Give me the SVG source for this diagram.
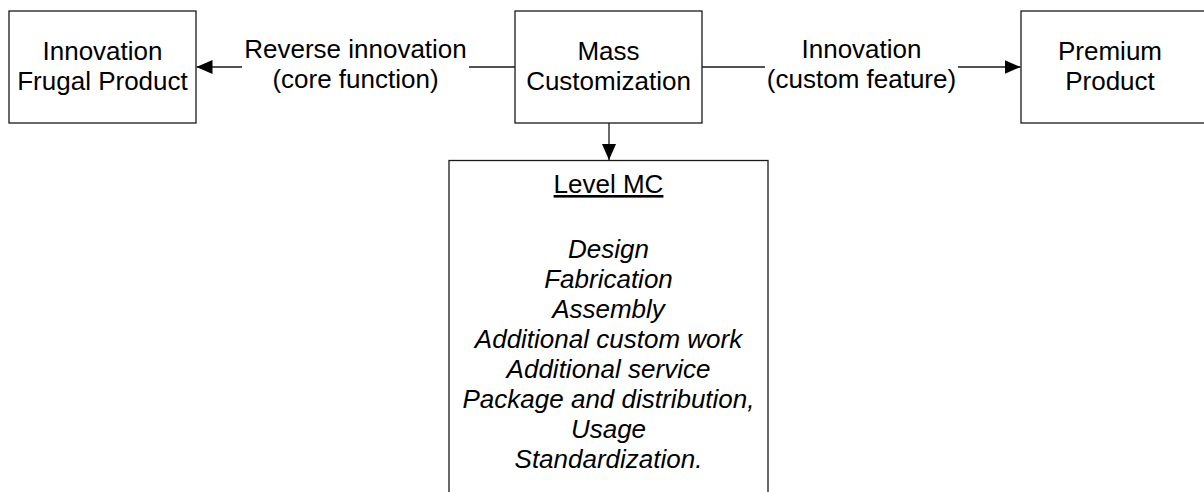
<svg xmlns="http://www.w3.org/2000/svg" width="1204" height="492" viewBox="0 0 1204 492">
  <defs>
    <style>
      .box { fill: #ffffff; stroke: #1a1a1a; stroke-width: 1.3; }
      .wire { fill: none; stroke: #1a1a1a; stroke-width: 1.3; }
      .lbl { font-family: "Liberation Sans", Arial, sans-serif; font-size: 26px; fill: #000000; text-anchor: middle; }
      .it { font-style: italic; }
      .ul { text-decoration: underline; }
    </style>
    <marker id="arrow" viewBox="0 0 16 14" refX="16" refY="7" markerWidth="16" markerHeight="14" markerUnits="userSpaceOnUse" orient="auto">
      <path d="M0,0 L16,7 L0,14 Z" fill="#000000"/>
    </marker>
  </defs>
  <rect width="1204" height="492" fill="#ffffff"/>

  <!-- connectors -->
  <g id="connectors">
    <line class="wire" x1="515" y1="67" x2="469" y2="67"/>
    <line class="wire" x1="242" y1="67" x2="196.5" y2="67" marker-end="url(#arrow)"/>
    <line class="wire" x1="702" y1="67" x2="765" y2="67"/>
    <line class="wire" x1="958" y1="67" x2="1020.5" y2="67" marker-end="url(#arrow)"/>
    <line class="wire" x1="609" y1="123" x2="609" y2="160" marker-end="url(#arrow)"/>
    <text class="lbl" x="355.5" y="58">Reverse innovation</text>
    <text class="lbl" x="355.5" y="88">(core function)</text>
    <text class="lbl" x="861.5" y="58">Innovation</text>
    <text class="lbl" x="861.5" y="88">(custom feature)</text>
  </g>

  <!-- nodes -->
  <g id="frugal">
    <rect class="box" x="9" y="11" width="187" height="112"/>
    <text class="lbl" x="102.5" y="60">Innovation</text>
    <text class="lbl" x="102.5" y="90">Frugal Product</text>
  </g>

  <g id="mass-customization">
    <rect class="box" x="515" y="11" width="187" height="112"/>
    <text class="lbl" x="608.5" y="60">Mass</text>
    <text class="lbl" x="608.5" y="90">Customization</text>
  </g>

  <g id="premium">
    <rect class="box" x="1021" y="11" width="187" height="112"/>
    <text class="lbl" x="1110" y="60">Premium</text>
    <text class="lbl" x="1110" y="90">Product</text>
  </g>

  <g id="level-mc">
    <rect class="box" x="449" y="160.5" width="319" height="340"/>
    <text class="lbl ul" x="608.5" y="193">Level MC</text>
    <text class="lbl it" x="608.5" y="258">Design</text>
    <text class="lbl it" x="608.5" y="288">Fabrication</text>
    <text class="lbl it" x="608.5" y="318">Assembly</text>
    <text class="lbl it" x="608.5" y="348">Additional custom work</text>
    <text class="lbl it" x="608.5" y="378">Additional service</text>
    <text class="lbl it" x="608.5" y="408">Package and distribution,</text>
    <text class="lbl it" x="608.5" y="438">Usage</text>
    <text class="lbl it" x="608.5" y="468">Standardization.</text>
  </g>
</svg>
